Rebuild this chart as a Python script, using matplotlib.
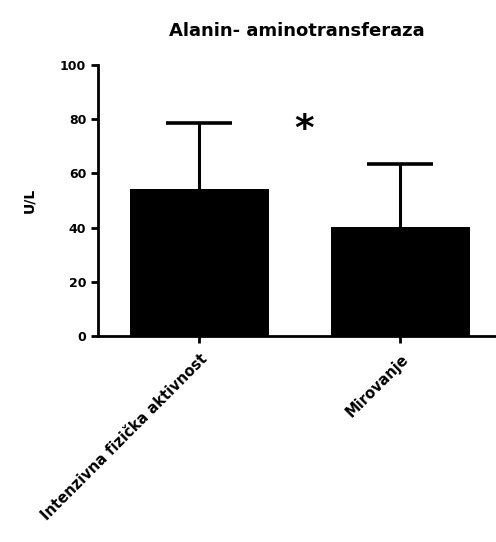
import numpy as np
import matplotlib.pyplot as plt

plt.rcParams['font.family'] = ['DejaVu Sans']
plt.rcParams['font.weight'] = 'bold'

# group means and upper SD
groups = ['Intenzivna fizička aktivnost', 'Mirovanje']
means = [54.4, 40.1]
sd_up = [24.2, 23.4]
yticks = [0, 20, 40, 60, 80, 100]

fig = plt.figure(figsize=(4.96, 5.42), dpi=100)
ax = fig.add_axes([0.1976, 0.38, 0.8, 0.50])

x = np.arange(len(groups))
ax.bar(x, means, width=0.69, color='black', zorder=2)
eb = ax.errorbar(x, means, yerr=[np.zeros(len(sd_up)), sd_up], fmt='none',
                 ecolor='black', elinewidth=2.2, capsize=24, capthick=2.6, zorder=1)
# only the upper cap is shown
eb[1][0].set_visible(False)

# significance marker
ax.text(0.52, 76.0, '*', ha='center', va='center', fontsize=27, fontweight='bold')

ax.set_xlim(-0.505, 1.47)
ax.set_ylim(0, 100)
ax.set_yticks(yticks)
ax.set_yticklabels([str(t) for t in yticks], fontsize=9, fontweight='bold')
ax.set_xticks(x)
ax.set_xticklabels(groups, rotation=45, ha='right', rotation_mode='anchor',
                   fontsize=10.5, fontweight='bold')
ax.tick_params(axis='x', pad=6)
ax.set_ylabel('U/L', fontsize=10, fontweight='bold', labelpad=17)
ax.set_title('Alanin- aminotransferaza', fontsize=13, fontweight='bold', pad=21)

for s in ['top', 'right']:
    ax.spines[s].set_visible(False)
for s in ['left', 'bottom']:
    ax.spines[s].set_linewidth(2)
ax.tick_params(axis='both', width=2, length=5, direction='out')
ax.spines['bottom'].set_zorder(3)

fig.savefig('out.png', dpi=100)
